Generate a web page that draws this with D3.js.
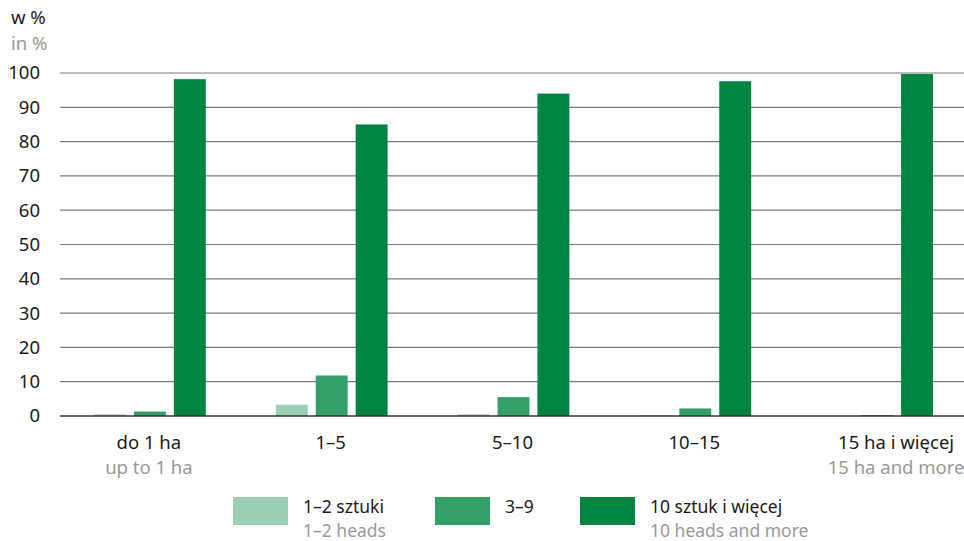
<!DOCTYPE html>
<html>
<head>
<meta charset="utf-8">
<script src="https://cdn.jsdelivr.net/npm/d3@7"></script>
<style>
  body { margin: 0; background: #fff; }
  svg { display: block; font-family: "Noto Sans", "Open Sans", sans-serif; }
</style>
</head>
<body>
<div id="chart"></div>
<script>
// grupy obszarowe i wartosci w %
const categoriesPl = ['do 1 ha', '1–5', '5–10', '10–15', '15 ha i więcej'];
const categoriesEn = ['up to 1 ha', '', '', '', '15 ha and more'];
const seriesNames = ['1–2 sztuki', '3–9', '10 sztuk i więcej'];
const seriesNamesEn = ['1–2 heads', '', '10 heads and more'];
const small = [0.5, 3.3, 0.5, 0.2, 0.0];
const medium = [1.3, 11.8, 5.5, 2.2, 0.3];
const large = [98.2, 85.0, 94.0, 97.6, 99.7];
const yTicks = [0, 10, 20, 30, 40, 50, 60, 70, 80, 90, 100];
const colors = ['#9acfb3', '#34a069', '#00843f'];

const width = 964, height = 541;
const margin = {left: 60, top: 73, bottom: 125};
const fs = 18.5;

const svg = d3.select('#chart').append('svg')
  .attr('width', width).attr('height', height);

const x0 = d3.scaleBand().domain(categoriesPl)
  .range([margin.left, margin.left + 5 * 181.8]).paddingInner(0).paddingOuter(0);
const x1 = d3.scaleBand().domain([0, 1, 2])
  .range([34, x0.bandwidth() - 36]).paddingInner(0.2).paddingOuter(0);
const y = d3.scaleLinear().domain([0, 100]).range([height - margin.bottom, margin.top]);

// linie siatki
svg.append('g').selectAll('line').data(yTicks.filter(d => d > 0)).join('line')
  .attr('x1', margin.left).attr('x2', width)
  .attr('y1', d => y(d)).attr('y2', d => y(d))
  .attr('stroke', '#7a7a7a').attr('stroke-width', 1.2);

svg.append('g').selectAll('text').data(yTicks).join('text')
  .attr('x', 40).attr('y', d => y(d)).attr('dy', '0.35em')
  .attr('text-anchor', 'end').attr('font-size', fs).attr('fill', '#1a1a1a')
  .text(d => d);

svg.append('text').attr('x', 11).attr('y', 24).attr('font-size', fs).attr('fill', '#1a1a1a').text('w %');
svg.append('text').attr('x', 11).attr('y', 50).attr('font-size', fs).attr('fill', '#999').text('in %');

const rows = categoriesPl.map((c, i) => ({cat: c, vals: [small[i], medium[i], large[i]]}));

const groups = svg.append('g').selectAll('g').data(rows).join('g')
  .attr('transform', d => `translate(${x0(d.cat)},0)`);

groups.selectAll('rect').data(d => d.vals.map((v, k) => ({k, v}))).join('rect')
  .attr('x', d => x1(d.k)).attr('width', x1.bandwidth())
  .attr('y', d => y(d.v)).attr('height', d => y(0) - y(d.v))
  .attr('fill', d => colors[d.k]);

// os zero
svg.append('line').attr('x1', margin.left).attr('x2', width)
  .attr('y1', y(0)).attr('y2', y(0))
  .attr('stroke', '#333').attr('stroke-width', 1.5);

// ostatnia etykieta przesunieta w prawo jak w oryginale
const labelX = (i) => x0(categoriesPl[i]) + x0.bandwidth() / 2 - 2 + (i === 4 ? 20 : 0);

svg.append('g').selectAll('text').data(categoriesPl).join('text')
  .attr('x', (d, i) => labelX(i)).attr('y', 449)
  .attr('text-anchor', 'middle').attr('font-size', fs).attr('fill', '#1a1a1a')
  .text(d => d);
svg.append('g').selectAll('text').data(categoriesEn).join('text')
  .attr('x', (d, i) => labelX(i)).attr('y', 474)
  .attr('text-anchor', 'middle').attr('font-size', fs).attr('fill', '#999')
  .text(d => d);

// legenda
const legX = [233, 435, 580];
const leg = svg.append('g').selectAll('g').data(seriesNames).join('g')
  .attr('transform', (d, i) => `translate(${legX[i]},497)`);
leg.append('rect').attr('width', 55).attr('height', 28).attr('fill', (d, i) => colors[i]);
leg.append('text').attr('x', 70).attr('y', 16).attr('font-size', 17.5).attr('fill', '#1a1a1a').text(d => d);
leg.append('text').attr('x', 70).attr('y', 40).attr('font-size', 17.5).attr('fill', '#999')
  .text((d, i) => seriesNamesEn[i]);
</script>
</body>
</html>
